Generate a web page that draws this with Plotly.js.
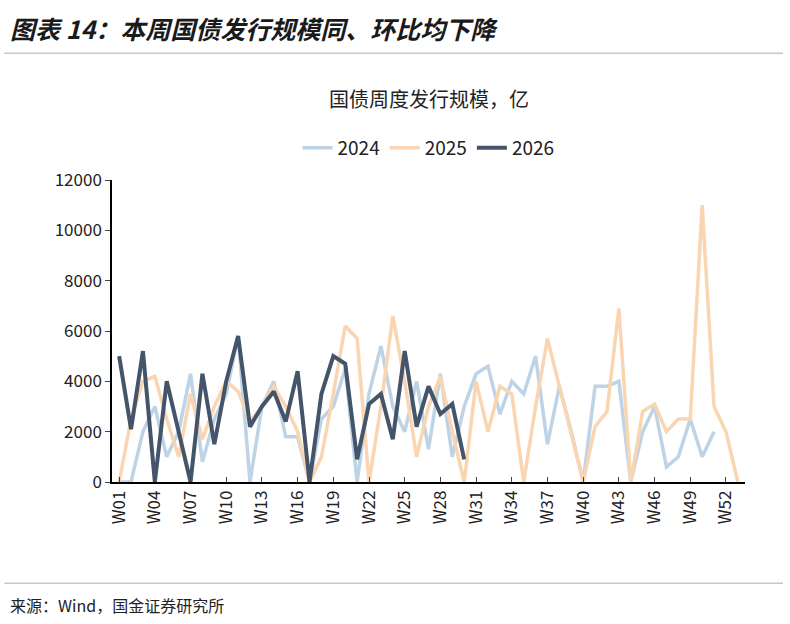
<!DOCTYPE html>
<html><head><meta charset="utf-8">
<script src="https://cdn.plot.ly/plotly-3.0.1.min.js"></script>
<style>body{margin:0;background:#fff}#chart{width:790px;height:624px}</style>
</head><body><div id="chart"></div>
<script>
const weeks = [];
for (let i = 1; i <= 53; i++) weeks.push('W' + String(i).padStart(2, '0'));
const tickLabels = ['W01','W04','W07','W10','W13','W16','W19','W22','W25','W28','W31','W34','W37','W40','W43','W46','W49','W52'];

const v2024 = [0,0,2000,3000,1000,2000,4300,800,2500,3500,5800,0,3000,4000,1800,1800,0,2500,3000,4500,0,3500,5400,3000,2000,4000,1300,4300,1000,3000,4300,4600,2700,4000,3500,5000,1500,3800,2000,0,3800,3800,4000,0,2000,3000,600,1000,2500,1000,2000];
const v2025 = [0,2500,4000,4200,2500,1000,3500,1700,3000,4000,3600,2400,3000,3800,3000,2000,0,1000,3500,6200,5700,0,3000,6600,4000,1000,3000,4200,2000,0,4000,2000,3800,3500,0,3000,5700,3800,2000,0,2200,2800,6900,0,2800,3100,2000,2500,2500,11000,3000,2000,0];
const v2026 = [5000,2100,5200,0,4000,2000,0,4300,1500,4000,5800,2200,3000,3600,2400,4400,0,3500,5000,4700,900,3100,3500,1700,5200,2200,3800,2700,3100,900];

const mk = (name, y, color, w) => ({
  name, x: weeks.slice(0, y.length), y, type: 'scatter', mode: 'lines',
  line: {color, width: w}
});
const traces = [
  mk('2024', v2024, '#bfd3e6', 3.5),
  mk('2025', v2025, '#f9d6b1', 3.5),
  mk('2026', v2026, '#44546a', 4)
];
const font = 'Noto Sans CJK SC, Noto Sans, sans-serif';
const layout = {
  width: 790, height: 624, paper_bgcolor: '#fff', plot_bgcolor: '#fff',
  margin: {l: 112, r: 45, t: 180, b: 142},
  font: {family: font, size: 17, color: '#222'},
  showlegend: true,
  legend: {orientation: 'h', x: 0.5, xanchor: 'center', y: 1.106, yanchor: 'middle', font: {size: 19}},
  xaxis: {
    categoryorder: 'array', categoryarray: weeks, tickmode: 'array', tickvals: tickLabels, ticktext: tickLabels,
    tickangle: -90, showline: true, linecolor: '#000', linewidth: 1.5, ticks: 'inside', ticklen: 5,
    showgrid: false, range: [-0.6, 52.6], tickfont: {size: 17}
  },
  yaxis: {
    range: [0, 12000], dtick: 2000, tickformat: 'd', showline: true, linecolor: '#000', linewidth: 1.5,
    ticks: 'outside', ticklen: 5, showgrid: false, zeroline: false, tickfont: {size: 17}
  },
  annotations: [
    {text: '<b><i>图表 14：本周国债发行规模同、环比均下降</i></b>', xref: 'paper', yref: 'paper', x: -0.165, y: 1.503, xanchor: 'left', yanchor: 'middle', showarrow: false, font: {size: 25, color: '#1a1a1a'}},
    {text: '国债周度发行规模，亿', xref: 'paper', yref: 'paper', x: 0.5, y: 1.27, xanchor: 'center', yanchor: 'middle', showarrow: false, font: {size: 20, color: '#222'}},
    {text: '来源：Wind，国金证券研究所', xref: 'paper', yref: 'paper', x: -0.165, y: -0.407, xanchor: 'left', yanchor: 'middle', showarrow: false, font: {size: 16, color: '#222'}}
  ],
  shapes: [
    {type: 'line', xref: 'paper', yref: 'paper', x0: -0.17, x1: 1.06, y0: 1.42, y1: 1.42, line: {color: '#aaa', width: 1}},
    {type: 'line', xref: 'paper', yref: 'paper', x0: -0.17, x1: 1.06, y0: -0.335, y1: -0.335, line: {color: '#aaa', width: 1}}
  ]
};
Plotly.newPlot('chart', traces, layout, {displayModeBar: false});
</script></body></html>
